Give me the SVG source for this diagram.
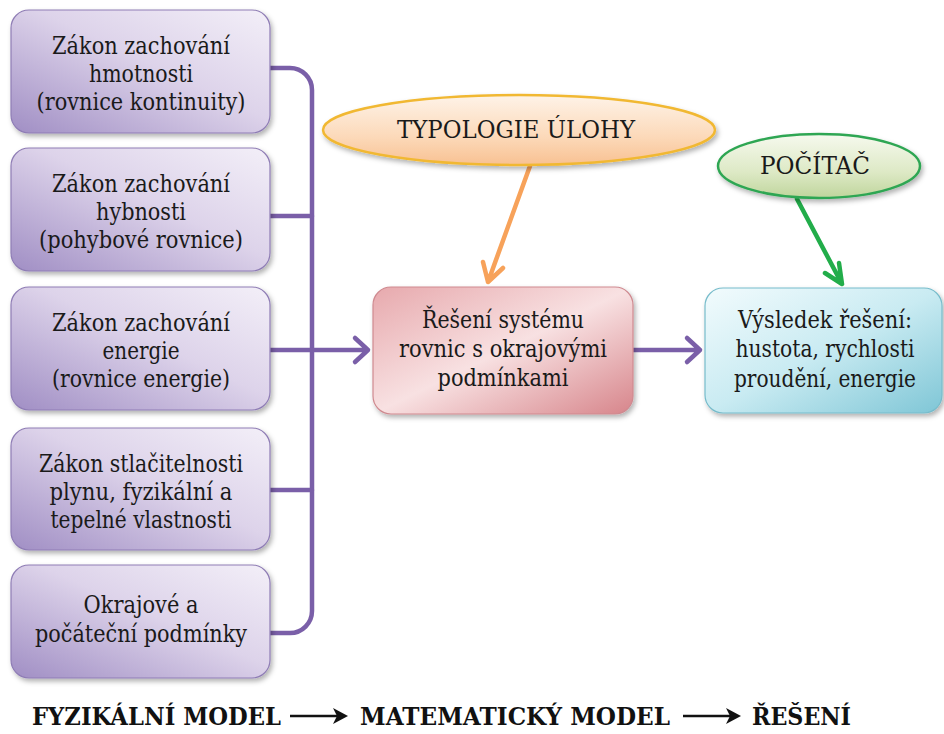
<svg xmlns="http://www.w3.org/2000/svg" width="944" height="734" viewBox="0 0 944 734">
<defs>
<linearGradient id="gP" x1="1" y1="0" x2="0" y2="1">
<stop offset="0" stop-color="#f3eff8"/><stop offset="0.45" stop-color="#ddd3ea"/><stop offset="1" stop-color="#a08ec4"/>
</linearGradient>
<linearGradient id="gR" x1="0" y1="0" x2="1" y2="1">
<stop offset="0" stop-color="#e7a9ad"/><stop offset="0.5" stop-color="#f8e1e2"/><stop offset="1" stop-color="#d7858b"/>
</linearGradient>
<linearGradient id="gB" x1="0" y1="0" x2="1" y2="1">
<stop offset="0" stop-color="#f2fbfd"/><stop offset="0.5" stop-color="#c9ebf2"/><stop offset="1" stop-color="#7fc6d6"/>
</linearGradient>
<linearGradient id="gO" x1="0" y1="0" x2="0" y2="1">
<stop offset="0" stop-color="#fef3e8"/><stop offset="0.6" stop-color="#fcd9b9"/><stop offset="1" stop-color="#f8c192"/>
</linearGradient>
<linearGradient id="gG" x1="0" y1="0" x2="0" y2="1">
<stop offset="0" stop-color="#f6f9ee"/><stop offset="0.6" stop-color="#dde9c5"/><stop offset="1" stop-color="#bfd59c"/>
</linearGradient>
<filter id="sh" x="-10%" y="-10%" width="125%" height="130%">
<feDropShadow dx="2" dy="3" stdDeviation="2.5" flood-color="#000" flood-opacity="0.3"/>
</filter>
</defs>
<style>
text{font-family:'DejaVu Serif',serif}
.t{font-size:24px;fill:#1a1a1a;text-anchor:middle}
.b{font-size:24px;font-weight:bold;fill:#111}
.pb{fill:url(#gP);stroke:#8f7db5;stroke-width:1.2}
.ln{fill:none;stroke-width:4.5;stroke-linecap:round;stroke-linejoin:round}
.pu{stroke:#7a5fa8}
.or{stroke:#f7a25a}
.gr{stroke:#22ad4a}
.bk{fill:none;stroke:#111;stroke-width:2.6}
</style>
<rect width="944" height="734" fill="#ffffff"/>

<g id="connectors">
<path class="ln pu" d="M270,68 H290 A22,22 0 0 1 312,90 V611 A22,22 0 0 1 290,633 H270"/>
<path class="ln pu" d="M270,216 H312 M270,350 H312 M270,490 H312"/>
<path class="ln pu" d="M312,350 H368 M355,338 L368,350 L355,362"/>
<path class="ln pu" d="M633,350 H700 M687,338 L700,350 L687,362"/>
<path class="ln or" d="M530,166 L488,282 M483,262 L488,282 L503,268"/>
<path class="ln gr" d="M797,199 L842,284 M839,263 L842,284 L825,273"/>
</g>

<g id="n1"><rect class="pb" x="11" y="10" width="259" height="123" rx="18" filter="url(#sh)"/>
<text class="t" x="141" y="54" textLength="178" lengthAdjust="spacingAndGlyphs">Zákon zachování</text>
<text class="t" x="141" y="82" textLength="104" lengthAdjust="spacingAndGlyphs">hmotnosti</text>
<text class="t" x="141" y="110" textLength="209" lengthAdjust="spacingAndGlyphs">(rovnice kontinuity)</text></g>
<g id="n2"><rect class="pb" x="11" y="148" width="259" height="123" rx="18" filter="url(#sh)"/>
<text class="t" x="141" y="192" textLength="178" lengthAdjust="spacingAndGlyphs">Zákon zachování</text>
<text class="t" x="141" y="220" textLength="90" lengthAdjust="spacingAndGlyphs">hybnosti</text>
<text class="t" x="141" y="248" textLength="204" lengthAdjust="spacingAndGlyphs">(pohybové rovnice)</text></g>
<g id="n3"><rect class="pb" x="11" y="287" width="259" height="123" rx="18" filter="url(#sh)"/>
<text class="t" x="141" y="331" textLength="178" lengthAdjust="spacingAndGlyphs">Zákon zachování</text>
<text class="t" x="141" y="359" textLength="77" lengthAdjust="spacingAndGlyphs">energie</text>
<text class="t" x="141" y="387" textLength="178" lengthAdjust="spacingAndGlyphs">(rovnice energie)</text></g>
<g id="n4"><rect class="pb" x="11" y="428" width="259" height="122" rx="18" filter="url(#sh)"/>
<text class="t" x="141" y="472" textLength="204" lengthAdjust="spacingAndGlyphs">Zákon stlačitelnosti</text>
<text class="t" x="141" y="500" textLength="183" lengthAdjust="spacingAndGlyphs">plynu, fyzikální a</text>
<text class="t" x="141" y="528" textLength="181" lengthAdjust="spacingAndGlyphs">tepelné vlastnosti</text></g>
<g id="n5"><rect class="pb" x="11" y="565" width="259" height="113" rx="18" filter="url(#sh)"/>
<text class="t" x="141" y="613" textLength="115" lengthAdjust="spacingAndGlyphs">Okrajové a</text>
<text class="t" x="141" y="642" textLength="212" lengthAdjust="spacingAndGlyphs">počáteční podmínky</text></g>

<g id="typologie"><ellipse cx="519" cy="130" rx="196" ry="35" fill="url(#gO)" stroke="#f1b833" stroke-width="2.5" filter="url(#sh)"/>
<text class="t" x="516" y="138" textLength="238" lengthAdjust="spacingAndGlyphs">TYPOLOGIE ÚLOHY</text></g>
<g id="pocitac"><ellipse cx="819" cy="166" rx="101" ry="32" fill="url(#gG)" stroke="#2fa653" stroke-width="2.5" filter="url(#sh)"/>
<text class="t" x="815" y="174" textLength="110" lengthAdjust="spacingAndGlyphs">POČÍTAČ</text></g>

<g id="reseni"><rect x="373" y="287" width="260" height="127" rx="18" fill="url(#gR)" stroke="#cf8a90" stroke-width="1.2" filter="url(#sh)"/>
<text class="t" x="503" y="328" textLength="162" lengthAdjust="spacingAndGlyphs">Řešení systému</text>
<text class="t" x="503" y="357" textLength="208" lengthAdjust="spacingAndGlyphs">rovnic s okrajovými</text>
<text class="t" x="503" y="386" textLength="131" lengthAdjust="spacingAndGlyphs">podmínkami</text></g>
<g id="vysledek"><rect x="705" y="288" width="237" height="125" rx="18" fill="url(#gB)" stroke="#77bccb" stroke-width="1.2" filter="url(#sh)"/>
<text class="t" x="825" y="328" textLength="174" lengthAdjust="spacingAndGlyphs">Výsledek řešení:</text>
<text class="t" x="825" y="357" textLength="179" lengthAdjust="spacingAndGlyphs">hustota, rychlosti</text>
<text class="t" x="825" y="387" textLength="182" lengthAdjust="spacingAndGlyphs">proudění, energie</text></g>

<g id="legend">
<text class="b" x="32" y="725" textLength="249" lengthAdjust="spacingAndGlyphs">FYZIKÁLNÍ MODEL</text>
<path class="bk" d="M290,716 H344"/>
<path d="M333,708 L348,716 L333,724 L337,716 Z" fill="#111"/>
<text class="b" x="360" y="725" textLength="310" lengthAdjust="spacingAndGlyphs">MATEMATICKÝ MODEL</text>
<path class="bk" d="M683,716 H737"/>
<path d="M726,708 L741,716 L726,724 L730,716 Z" fill="#111"/>
<text class="b" x="752" y="725" textLength="99" lengthAdjust="spacingAndGlyphs">ŘEŠENÍ</text>
</g>
</svg>
